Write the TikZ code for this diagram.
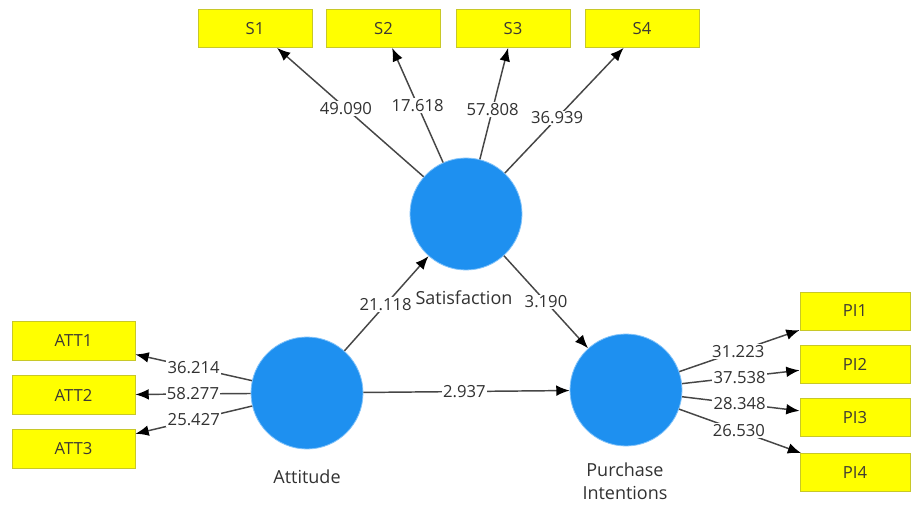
\documentclass[tikz,border=0pt]{standalone}
\usepackage{fontspec}
\setmainfont{Open Sans}
\usetikzlibrary{arrows.meta}
\definecolor{lvblue}{RGB}{30,144,240}
\definecolor{lvhalo}{RGB}{130,195,250}
\definecolor{boxyellow}{RGB}{255,255,0}
\definecolor{boxedge}{RGB}{200,200,40}
\definecolor{linegray}{RGB}{70,70,70}
\definecolor{txtgray}{RGB}{50,50,50}
\begin{document}
\begin{tikzpicture}[x=0.75pt,y=-0.75pt,
  ind/.style={draw=boxedge, line width=0.6pt, fill=boxyellow, minimum height=28.5pt, inner sep=0pt,
    font=\fontsize{12.5}{14}\selectfont, text=black!80!yellow!60!black},
  sind/.style={ind, minimum width=85.5pt},
  aind/.style={ind, minimum width=92.25pt, minimum height=29.25pt},
  pind/.style={ind, minimum width=82.5pt},
  lat/.style={circle, fill=lvblue, draw=lvhalo, line width=0.6pt, minimum size=84pt, inner sep=0pt},
  conn/.style={draw=linegray, line width=1.1pt, -{Latex[length=10pt,width=8pt,color=black]}},
  wt/.style={fill=white, inner sep=1pt, font=\fontsize{12.5}{14}\selectfont, text=txtgray},
  nm/.style={font=\fontsize{13.5}{17}\selectfont, text=txtgray, align=center}]
\fill[white] (0,0) rectangle (911,506);
\useasboundingbox (0,0) rectangle (911,506);
% indicators
\node[sind] (s1) at (255,28.5) {S1};
\node[sind] (s2) at (383.5,28.5) {S2};
\node[sind] (s3) at (513,28.5) {S3};
\node[sind] (s4) at (642,28.5) {S4};
\node[aind] (att1) at (73.5,340.5) {ATT1};
\node[aind] (att2) at (73.5,395) {ATT2};
\node[aind] (att3) at (73.5,448.5) {ATT3};
\node[pind] (pi1) at (855,311) {PI1};
\node[pind] (pi2) at (855,364) {PI2};
\node[pind] (pi3) at (855,417.5) {PI3};
\node[pind] (pi4) at (855,472.5) {PI4};
% latent variables
\node[lat] (sat) at (466,214) {};
\node[lat] (att) at (307,393) {};
\node[lat] (pi) at (626,390) {};
\node[nm] (satl) at (464,298) {Satisfaction};
\node[nm] (attl) at (307,477) {Attitude};
\node[nm] (pil) at (625,481) {Purchase\\Intentions};
% outer loadings
\draw[conn] (sat) -- node[wt,pos=0.53] (w1) {49.090} (s1);
\draw[conn] (sat) -- node[wt,pos=0.50] (w2) {17.618} (s2);
\draw[conn] (sat) -- node[wt,pos=0.45] (w3) {57.808} (s3);
\draw[conn] (sat) -- node[wt,pos=0.44] (w4) {36.939} (s4);
\draw[conn] (att) -- node[wt,pos=0.5] (w5) {36.214} (att1);
\draw[conn] (att) -- node[wt,pos=0.5] (w6) {58.277} (att2);
\draw[conn] (att) -- node[wt,pos=0.5] (w7) {25.427} (att3);
\draw[conn] (pi) -- node[wt,pos=0.49] (w8) {31.223} (pi1);
\draw[conn] (pi) -- node[wt,pos=0.49] (w9) {37.538} (pi2);
\draw[conn] (pi) -- node[wt,pos=0.49] (w10) {28.348} (pi3);
\draw[conn] (pi) -- node[wt,pos=0.49] (w11) {26.530} (pi4);
% structural paths
\draw[conn] (att) -- node[wt,pos=0.49] (w12) {21.118} (sat);
\draw[conn] (sat) -- node[wt,pos=0.5] (w13) {3.190} (pi);
\draw[conn] (att) -- node[wt,pos=0.49] (w14) {2.937} (pi);
\end{tikzpicture}
\end{document}
